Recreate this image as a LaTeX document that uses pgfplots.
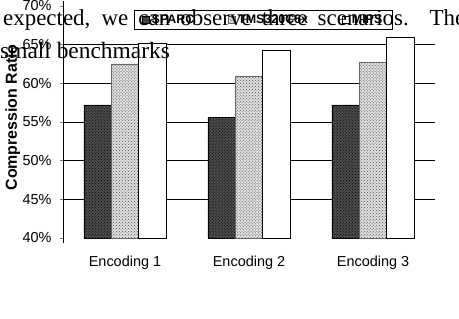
\documentclass[border=0pt]{standalone}
\usepackage{fontspec}
\setmainfont{Liberation Serif}
\setsansfont{Liberation Sans}
\usepackage{pgfplots}
\pgfplotsset{compat=1.18}
\usetikzlibrary{patterns}
\begin{document}
\begin{tikzpicture}[x=1bp,y=1bp]
\useasboundingbox (0,0) rectangle (459,318);
\begin{axis}[
  at={(63bp,80bp)}, anchor=south west,
  scale only axis, width=372bp, height=232bp,
  ybar=0pt, bar width=27.5bp,
  xmin=-0.5, xmax=2.5, ymin=40, ymax=70,
  xtick={0,1,2}, xticklabels={Encoding 1,Encoding 2,Encoding 3},
  ytick={40,45,...,70},
  yticklabel={\pgfmathprintnumber{\tick}\%},
  /pgf/number format/assume math mode=true,
  ticklabel style={font=\sffamily\fontsize{14.5}{16}\selectfont},
  xticklabel style={yshift=-12bp},
  yticklabel style={xshift=-5bp},
  axis x line*=bottom, axis y line*=left,
  x axis line style={draw=none},
  y axis line style={-, line width=0.8bp, shorten <=-5bp, shorten >=-5bp},
  xtick style={draw=none},
  ytick style={line width=0.8bp},
  tick align=outside, major tick length=3bp,
  extra y ticks={45,50,55,60,65}, extra y tick labels={},
  extra y tick style={grid=major, major tick length=0pt},
  grid style={black, line width=0.8bp},
  ylabel={Compression Ratio},
  ylabel style={at={(axis description cs:-0.135,0.52)}, anchor=center, font=\sffamily\bfseries\fontsize{16}{18}\selectfont},
  legend columns=3,
  legend style={at={(axis description cs:0.538,0.94)}, anchor=center, draw=black, line width=0.8bp,
    font=\sffamily\bfseries\fontsize{12.5}{14}\selectfont, inner ysep=2bp, inner xsep=8bp,
    /tikz/every even column/.append style={column sep=32bp}},
  legend image code/.code={\draw[#1] (0bp,-3.5bp) rectangle (7bp,3.5bp);},
]
\addplot[draw=black, fill=black!70, postaction={pattern=crosshatch dots, pattern color=black}] coordinates {(0,57.2) (1,55.6) (2,57.2)};
\addplot[draw=black!60, fill=black!12, postaction={pattern=crosshatch dots, pattern color=black!70}] coordinates {(0,62.5) (1,60.9) (2,62.7)};
\addplot[draw=black, line width=0.8bp, fill=white] coordinates {(0,65.2) (1,64.2) (2,66.0)};
\legend{SPARC,TMS320C6x,MIPS}
\end{axis}
\node[anchor=base west, inner sep=0, font=\fontsize{23}{25}\selectfont] at (3,293) {\makebox[462bp][s]{expected, we can observe three scenarios. The}};
\node[anchor=base west, inner sep=0, font=\fontsize{23.5}{25}\selectfont] at (0,260) {small benchmarks};
\end{tikzpicture}
\end{document}
